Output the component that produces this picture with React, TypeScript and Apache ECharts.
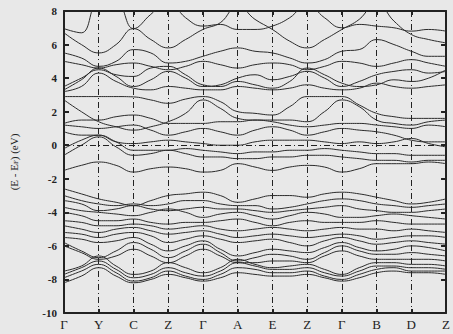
import React, { useEffect, useRef } from "react";
import * as echarts from "echarts";

const kLabels = ["Γ", "Y", "C", "Z", "Γ", "A", "E", "Z", "Γ", "B", "D", "Z"];
const kPath = [0, 0.5, 1, 1.5, 2, 2.5, 3, 3.5, 4, 4.5, 5, 5.5, 6, 6.5, 7, 7.5, 8, 8.5, 9, 9.5, 10, 10.5, 11];
const yTicks = [8, 6, 4, 2, 0, -2, -4, -6, -8, -10];

// conduction bands
const c1 = [6.95, 6.7, 8.5, 8.5, 6.95, 7.8, 8.6, 7.6, 7.1, 7.2, 6.9, 6.9, 7.1, 7.6, 8.4, 7.6, 7.0, 7.2, 7.1, 7.0, 6.8, 6.9, 6.8];
const c2 = [6.7, 6.0, 5.5, 6.0, 6.95, 6.3, 5.8, 6.3, 6.9, 7.3, 8.3, 7.5, 6.9, 6.2, 5.8, 6.3, 6.9, 7.5, 8.5, 7.4, 6.6, 6.3, 6.1];
const c3 = [5.5, 5.2, 4.7, 5.0, 5.7, 5.5, 4.9, 5.0, 5.3, 5.6, 5.8, 5.6, 5.5, 5.2, 4.9, 5.1, 5.6, 5.7, 6.3, 6.0, 5.6, 5.3, 5.3];
const c4 = [5.0, 4.8, 4.6, 4.8, 4.9, 4.7, 4.5, 4.7, 5.0, 4.8, 4.6, 4.8, 4.9, 4.8, 4.5, 4.7, 5.0, 4.9, 4.7, 4.9, 5.1, 4.9, 4.7];
const c5 = [3.3, 3.9, 4.6, 4.1, 3.5, 3.9, 4.4, 4.0, 3.5, 3.6, 4.0, 4.2, 3.9, 4.1, 4.4, 4.0, 3.5, 3.8, 4.2, 4.4, 4.5, 4.3, 4.4];
const c6 = [3.5, 4.0, 4.5, 4.2, 4.1, 4.6, 4.7, 4.2, 3.6, 3.5, 3.8, 3.6, 3.4, 3.8, 4.6, 4.2, 3.7, 3.5, 3.6, 3.9, 3.8, 4.0, 4.5];
const c7 = [3.2, 3.5, 4.3, 3.8, 3.4, 3.3, 3.5, 3.4, 3.3, 3.3, 3.5, 3.4, 3.3, 3.4, 3.6, 3.4, 3.3, 3.4, 3.7, 3.5, 3.4, 3.5, 3.6];
const flat = [2.9, 2.9, 2.9, 2.9, 2.88, 2.7, 2.5, 2.75, 2.9, 2.6, 2.0, 1.9, 1.8, 2.3, 2.9, 2.9, 2.9, 2.4, 1.9, 1.7, 1.6, 1.6, 1.6];

// middle bands
const m1 = [2.7, 2.0, 1.4, 1.1, 0.9, 1.1, 1.4, 1.9, 2.7, 2.2, 1.6, 1.5, 1.5, 1.5, 1.4, 2.0, 2.7, 2.3, 1.5, 1.3, 1.2, 1.4, 1.5];
const m2 = [1.3, 1.5, 1.5, 1.7, 1.8, 1.6, 1.3, 1.3, 1.3, 1.4, 1.4, 1.5, 1.4, 1.2, 1.1, 1.2, 1.3, 1.3, 1.2, 1.1, 1.0, 1.2, 1.1];
const m3 = [1.2, 1.1, 1.0, 1.1, 1.2, 0.9, 0.6, 0.8, 1.0, 0.8, 0.6, 0.9, 1.1, 0.9, 0.6, 0.8, 1.0, 0.9, 0.8, 0.6, 0.3, 0.2, 0.2];
const m4 = [0.8, 0.6, 0.6, 0.2, 0.1, 0.2, 0.3, 0.2, 0.1, 0.0, 0.0, 0.2, 0.3, 0.3, 0.3, 0.2, 0.1, 0.2, 0.1, 0.2, 0.4, 0.1, -0.1];
const m5 = [-0.2, 0.3, 0.6, 0.2, -0.3, -0.3, -0.3, -0.2, -0.3, -0.4, -0.5, -0.4, -0.4, -0.3, -0.3, -0.2, -0.3, -0.4, -0.5, -0.5, -0.6, -0.6, -0.6];
const m6 = [-0.6, 0.0, 0.5, -0.1, -0.6, -0.5, -0.3, -0.5, -0.7, -0.7, -0.8, -0.8, -0.7, -0.7, -0.6, -0.6, -0.7, -0.8, -0.9, -0.9, -1.0, -0.9, -0.9];
const m7 = [-1.5, -1.2, -1.0, -1.2, -1.6, -1.4, -1.3, -1.4, -1.6, -1.5, -1.1, -1.3, -1.5, -1.3, -1.2, -1.3, -1.6, -1.4, -1.1, -1.1, -1.1, -1.0, -1.1];

// valence bands
const v1 = [-2.6, -2.9, -3.2, -3.4, -3.6, -3.3, -3.0, -2.9, -2.8, -3.0, -3.4, -3.2, -3.0, -3.0, -3.1, -2.9, -2.8, -2.9, -3.1, -3.3, -3.5, -3.4, -3.2];
const v2 = [-3.0, -3.3, -3.5, -3.6, -3.5, -3.6, -3.5, -3.3, -3.3, -3.5, -3.6, -3.6, -3.8, -3.7, -3.5, -3.3, -3.2, -3.3, -3.5, -3.6, -3.7, -3.6, -3.5];
const v3 = [-3.3, -3.5, -3.9, -3.8, -3.6, -3.8, -3.9, -3.8, -3.7, -3.8, -3.8, -3.9, -4.0, -3.9, -3.8, -3.7, -3.6, -3.8, -3.9, -4.0, -4.0, -3.9, -3.8];
const v4 = [-3.7, -3.9, -4.0, -4.1, -4.2, -4.0, -3.8, -4.0, -4.3, -4.1, -4.0, -4.2, -4.4, -4.2, -4.0, -4.1, -4.3, -4.3, -4.2, -4.1, -4.2, -4.3, -4.4];
const v5 = [-4.0, -4.2, -4.5, -4.5, -4.4, -4.6, -4.7, -4.6, -4.6, -4.5, -4.4, -4.6, -4.8, -4.6, -4.5, -4.6, -4.6, -4.6, -4.5, -4.6, -4.7, -4.7, -4.7];
const v6 = [-4.5, -4.6, -4.8, -4.8, -4.7, -4.8, -5.0, -4.9, -4.8, -5.0, -5.1, -5.0, -4.9, -5.0, -5.1, -5.0, -4.9, -5.0, -5.0, -5.1, -5.0, -5.1, -5.2];
const v7 = [-4.8, -5.0, -5.2, -5.0, -4.9, -5.1, -5.3, -5.2, -5.1, -5.3, -5.5, -5.4, -5.3, -5.4, -5.5, -5.4, -5.3, -5.4, -5.6, -5.5, -5.4, -5.4, -5.5];
const v8 = [-5.2, -5.3, -5.5, -5.3, -5.2, -5.4, -5.8, -5.6, -5.4, -5.6, -5.8, -5.7, -5.6, -5.8, -6.0, -5.7, -5.5, -5.7, -5.9, -5.8, -5.7, -5.8, -5.9];
const v9 = [-5.5, -5.6, -5.8, -5.7, -5.5, -5.9, -6.3, -6.0, -5.7, -6.2, -6.6, -6.4, -6.2, -6.3, -6.4, -6.1, -5.8, -6.1, -6.3, -6.2, -6.0, -6.1, -6.3];
const v10 = [-5.8, -6.3, -6.7, -6.3, -5.8, -6.2, -6.7, -6.3, -5.9, -6.4, -6.9, -6.7, -6.5, -6.6, -6.8, -6.4, -6.0, -6.3, -6.5, -6.5, -6.4, -6.5, -6.6];
const v11 = [-6.0, -6.4, -6.8, -6.6, -6.2, -6.6, -7.0, -6.6, -6.2, -6.6, -7.0, -7.0, -6.9, -6.9, -7.0, -6.6, -6.3, -6.6, -6.8, -6.8, -6.8, -6.8, -6.9];
const v12 = [-7.5, -7.2, -6.6, -7.2, -7.7, -7.5, -7.0, -7.3, -7.6, -7.3, -6.8, -7.1, -7.3, -7.2, -7.1, -7.4, -7.7, -7.3, -7.0, -7.0, -7.1, -7.1, -7.2];
const v13 = [-7.7, -7.3, -6.9, -7.4, -7.9, -7.7, -7.3, -7.6, -7.8, -7.5, -7.0, -7.2, -7.4, -7.4, -7.3, -7.6, -7.8, -7.5, -7.2, -7.2, -7.3, -7.3, -7.4];
const v14 = [-7.9, -7.5, -7.1, -7.6, -8.1, -7.9, -7.5, -7.8, -8.0, -7.7, -7.3, -7.4, -7.6, -7.6, -7.5, -7.8, -8.0, -7.7, -7.4, -7.3, -7.5, -7.5, -7.5];
const v15 = [-8.2, -7.8, -7.3, -7.8, -8.2, -8.0, -7.7, -7.9, -8.1, -7.9, -7.6, -7.7, -7.8, -7.8, -7.7, -7.9, -8.1, -7.9, -7.6, -7.5, -7.6, -7.6, -7.7];

const bands = [c1, c2, c3, c4, c5, c6, c7, flat, m1, m2, m3, m4, m5, m6, m7,
  v1, v2, v3, v4, v5, v6, v7, v8, v9, v10, v11, v12, v13, v14, v15];

const FONT = "'Liberation Serif', 'DejaVu Serif', serif";
const INK = "#222";
const DASHDOT = [6, 3, 1, 3];

export default function App() {
  const ref = useRef<HTMLDivElement>(null);
  useEffect(() => {
    if (!ref.current) return;
    const chart = echarts.init(ref.current, null, { renderer: "svg" });
    const series: any[] = bands.map((b, i) => ({
      type: "line",
      data: kPath.map((x, j) => [x, b[j]]),
      smooth: 0.45,
      showSymbol: false,
      symbol: "none",
      clip: true,
      silent: true,
      lineStyle: { color: "#2b2b2b", width: 1 },
      z: 3,
      ...(i === 0
        ? {
            markLine: {
              silent: true,
              symbol: ["none", "none"],
              label: { show: false },
              lineStyle: { color: INK, width: 1, type: DASHDOT },
              data: [{ yAxis: 0 }],
            },
          }
        : {}),
    }));
    const frame = { show: true, onZero: false, lineStyle: { color: INK, width: 2 } };
    chart.setOption({
      animation: false,
      backgroundColor: "#e8e8e8",
      grid: { left: 64, right: 6, top: 11, bottom: 21, show: false },
      xAxis: [
        {
          type: "value",
          min: 0,
          max: 11,
          interval: 1,
          position: "bottom",
          axisLine: frame,
          axisTick: { show: true, inside: true, length: 4, lineStyle: { color: INK, width: 2 } },
          axisLabel: {
            margin: 5,
            fontFamily: FONT,
            fontSize: 13,
            color: INK,
            formatter: (v: number) => kLabels[Math.round(v)] ?? "",
          },
          splitLine: { show: true, lineStyle: { color: INK, width: 1, type: DASHDOT } },
        },
        {
          type: "value",
          min: 0,
          max: 11,
          interval: 1,
          position: "top",
          axisLine: frame,
          axisTick: { show: true, inside: true, length: 4, lineStyle: { color: INK, width: 2 } },
          axisLabel: { show: false },
          splitLine: { show: false },
        },
      ],
      yAxis: [
        {
          type: "value",
          min: -10,
          max: 8,
          interval: 2,
          position: "left",
          name: "(E - E{sub|F}) (eV)",
          nameLocation: "middle",
          nameGap: 45,
          nameRotate: 90,
          nameTextStyle: {
            fontFamily: FONT,
            fontSize: 11,
            color: INK,
            rich: { sub: { fontFamily: FONT, fontSize: 7, color: INK, verticalAlign: "bottom", padding: [4, 0, 0, 0] } },
          },
          axisLine: frame,
          axisTick: { show: true, inside: true, length: 5, lineStyle: { color: INK, width: 2 } },
          axisLabel: {
            margin: 7,
            fontFamily: FONT,
            fontSize: 11,
            fontWeight: "bold",
            color: INK,
            formatter: (v: number) => (yTicks.includes(v) ? String(v) : ""),
          },
          splitLine: { show: false },
        },
        {
          type: "value",
          min: -10,
          max: 8,
          interval: 2,
          position: "right",
          axisLine: frame,
          axisTick: { show: true, inside: true, length: 5, lineStyle: { color: INK, width: 2 } },
          axisLabel: { show: false },
          splitLine: { show: false },
        },
      ],
      series,
    });
    return () => chart.dispose();
  }, []);
  return (
    <div
      ref={ref}
      style={{ position: "fixed", left: 0, top: 0, width: 453, height: 334, background: "#e8e8e8" }}
    />
  );
}
